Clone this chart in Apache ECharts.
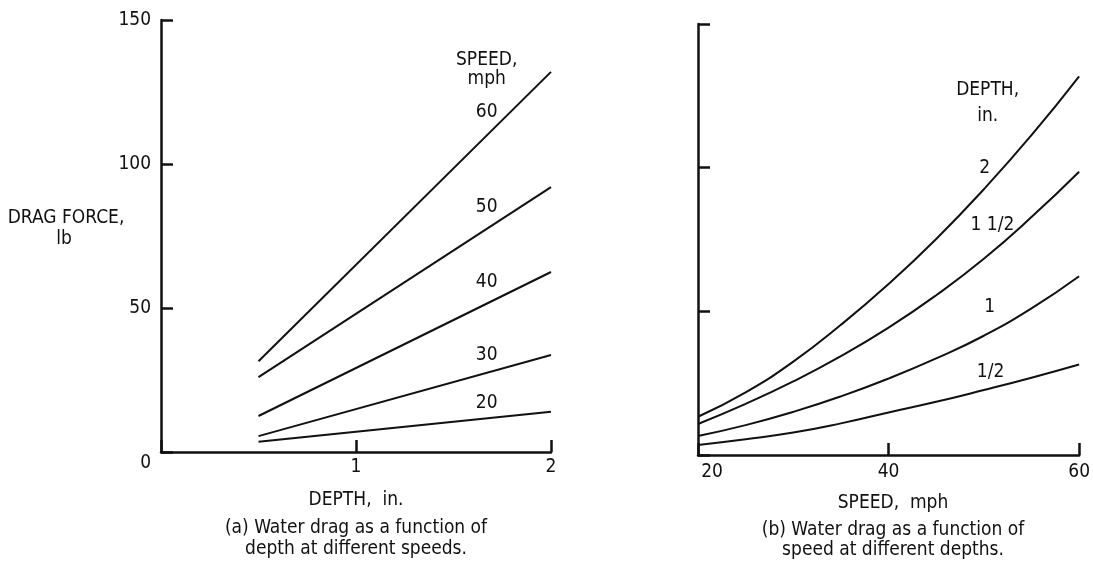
<!DOCTYPE html>
<html>
<head>
<meta charset="utf-8">
<script src="https://cdn.jsdelivr.net/npm/echarts@6/dist/echarts.min.js"></script>
<style>
html,body{margin:0;padding:0;background:#fff;}
#c{width:1093px;height:575px;}
</style>
</head>
<body>
<div id="c"></div>
<script>
// ---- Data: (a) drag vs depth at different speeds ----
var depthX = [0.5, 2];
var speedLabels = ['60', '50', '40', '30', '20'];
var dragBySpeed = {
  '60': [31.5, 132],
  '50': [26, 92],
  '40': [12.5, 62.5],
  '30': [5.5, 33.7],
  '20': [3.6, 14]
};
// ---- Data: (b) drag vs speed at different depths ----
var speedX = [20, 25, 30, 35, 40, 45, 50, 55, 60];
var depthLabels = ['2', '1 1/2', '1', '1/2'];
var dragByDepth = {
  '2':     [13.3, 21.8, 32.5, 45.3, 59.5, 75.2, 92.5, 111.3, 131.8],
  '1 1/2': [10.8, 17.8, 25.6, 34.4, 44.3, 55.6, 68.3, 82.8, 98.6],
  '1':     [6.6, 10.4, 15, 20.4, 26.6, 33.6, 41.5, 51.0, 62.2],
  '1/2':   [3.5, 5.5, 7.8, 11.0, 14.8, 18.5, 22.6, 26.9, 31.5]
};
var leftYTicks = ['0', '50', '100', '150'];

var FONT = '"Liberation Sans Narrow","DejaVu Sans Condensed","Roboto",sans-serif';
var INK = '#111';
var FS = 19;

function pairs(xs, ys){ return xs.map(function(x,i){ return [x, ys[i]]; }); }

var series = [];
speedLabels.forEach(function(s){
  series.push({type:'line', xAxisIndex:0, yAxisIndex:0, data:pairs(depthX, dragBySpeed[s]),
    symbol:'none', lineStyle:{color:INK, width:2}, silent:true});
});
depthLabels.forEach(function(d){
  series.push({type:'line', xAxisIndex:1, yAxisIndex:1, data:pairs(speedX, dragByDepth[d]),
    smooth:0.5, symbol:'none', lineStyle:{color:INK, width:2}, silent:true});
});

var axisLine = {show:true, lineStyle:{color:INK, width:2.5}};
var tick = {show:true, inside:true, length:12, lineStyle:{color:INK, width:2.5}};
var lblStyle = {color:INK, fontFamily:FONT, fontSize:FS};

var option = {
  animation:false,
  backgroundColor:'#fff',
  grid:[
    {left:161, top:20, width:390, height:432},
    {left:698, top:24, width:386, height:431}
  ],
  xAxis:[
    {type:'value', gridIndex:0, min:0, max:2, interval:1, axisLine:axisLine, axisTick:tick,
     splitLine:{show:false},
     axisLabel:Object.assign({margin:6, formatter:function(v){return v===0?'':String(v);}}, lblStyle)},
    {type:'value', gridIndex:1, min:20, max:60, interval:20, axisLine:axisLine, axisTick:tick,
     splitLine:{show:false},
     axisLabel:Object.assign({margin:8, formatter:function(v){return v===20?'{a|20}':String(v);},
       rich:{a:{padding:[0,0,0,28], color:INK, fontFamily:FONT, fontSize:FS}}}, lblStyle)}
  ],
  yAxis:[
    {type:'value', gridIndex:0, min:0, max:150, interval:50, axisLine:axisLine, axisTick:tick,
     splitLine:{show:false},
     axisLabel:Object.assign({margin:10, formatter:function(v){
        var t = leftYTicks[Math.round(v/50)];
        return v===0 ? '{z|'+t+'}' : t;},
       rich:{z:{padding:[22,0,0,0], color:INK, fontFamily:FONT, fontSize:FS}}}, lblStyle)},
    {type:'value', gridIndex:1, min:0, max:150, interval:50, axisLine:axisLine, axisTick:tick,
     splitLine:{show:false}, axisLabel:{show:false}}
  ],
  series:series
};

var chart = echarts.init(document.getElementById('c'), null, {renderer:'canvas'});
chart.setOption(option);

// annotation texts placed in data coordinates
var notes = [
  {g:0, c:[1.67,136], t:'SPEED,'},
  {g:0, c:[1.67,129.5], t:'mph'},
  {g:0, c:[1.67,118], t:'60'},
  {g:0, c:[1.67,85], t:'50'},
  {g:0, c:[1.67,59], t:'40'},
  {g:0, c:[1.67,33.5], t:'30'},
  {g:0, c:[1.67,17], t:'20'},
  {g:1, c:[50.4,127], t:'DEPTH,'},
  {g:1, c:[50.4,118], t:'in.'},
  {g:1, c:[50.1,100], t:'2'},
  {g:1, c:[50.9,80], t:'1 1/2'},
  {g:1, c:[50.6,51.5], t:'1'},
  {g:1, c:[50.7,29], t:'1/2'}
];
var g = [];
function txt(x,y,t){ return {type:'text', x:x, y:y, style:{text:t, fill:INK, font:FS+'px '+FONT, align:'center', verticalAlign:'middle'}}; }
notes.forEach(function(n){
  var p = chart.convertToPixel({gridIndex:n.g}, n.c);
  g.push(txt(p[0], p[1], n.t));
});
g.push(txt(66,218,'DRAG FORCE,'));
g.push(txt(64,239,'lb'));
g.push(txt(356,500,'DEPTH,  in.'));
g.push(txt(356,528,'(a) Water drag as a function of'));
g.push(txt(356,549,'depth at different speeds.'));
g.push(txt(893,503,'SPEED,  mph'));
g.push(txt(893,530,'(b) Water drag as a function of'));
g.push(txt(893,550,'speed at different depths.'));
chart.setOption({graphic:g});
</script>
</body>
</html>
